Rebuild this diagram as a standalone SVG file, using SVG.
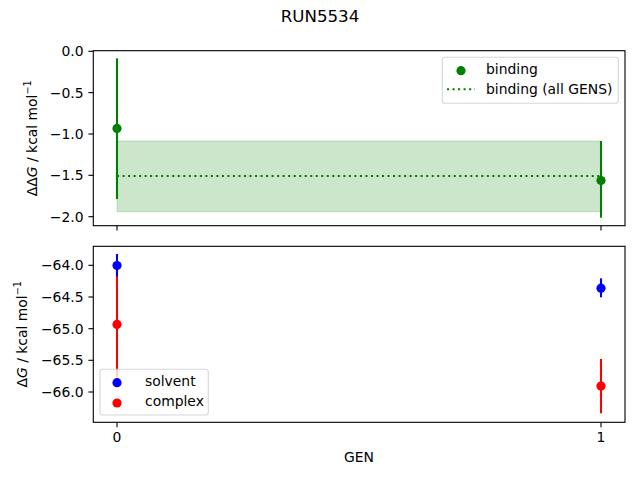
<svg xmlns="http://www.w3.org/2000/svg" width="640" height="480" viewBox="0 0 640 480">
<style>
text{font-family:"DejaVu Sans","Liberation Sans",sans-serif;fill:#000}
.tk{font-size:13.9px}
.tr{text-anchor:end}
.tm{text-anchor:middle}
.spine{fill:none;stroke:#000;stroke-width:1.11}
.tick{stroke:#000;stroke-width:1.11}
.eg{stroke:#008000;stroke-width:2.08}
.eb{stroke:#0000ff;stroke-width:2.08}
.er{stroke:#ff0000;stroke-width:2.08}
.leg{fill:#fff;fill-opacity:0.8;stroke:#ccc;stroke-opacity:0.8;stroke-width:1.11}
</style>
<rect width="640" height="480" fill="#fff"/>
<text id="title" x="320" y="21.8" class="tm" style="font-size:16.67px">RUN5534</text>

<g id="top-axes">
  <rect x="117" y="141" width="484" height="70.7" fill="#008000" fill-opacity="0.2" stroke="#008000" stroke-opacity="0.2" stroke-width="1"/>
  <line x1="117" y1="176" x2="601" y2="176" stroke="#008000" stroke-width="2.08" stroke-dasharray="2.08,3.44"/>
  <line class="eg" x1="117" y1="58.3" x2="117" y2="199"/>
  <circle cx="117" cy="128.4" r="4.6" fill="#008000"/>
  <line class="eg" x1="601" y1="141" x2="601" y2="217.7"/>
  <circle cx="601" cy="180.5" r="4.6" fill="#008000"/>
  <rect class="spine" x="93.3" y="50.7" width="531.7" height="175"/>
  <g class="tick">
    <line x1="88.4" y1="51.3" x2="93.3" y2="51.3"/>
    <line x1="88.4" y1="92.6" x2="93.3" y2="92.6"/>
    <line x1="88.4" y1="134" x2="93.3" y2="134"/>
    <line x1="88.4" y1="175.3" x2="93.3" y2="175.3"/>
    <line x1="88.4" y1="216.7" x2="93.3" y2="216.7"/>
    <line x1="117" y1="225.7" x2="117" y2="230.6"/>
    <line x1="601" y1="225.7" x2="601" y2="230.6"/>
  </g>
  <g class="tk tr">
    <text x="83.5" y="56.3">0.0</text>
    <text x="83.5" y="97.6">−0.5</text>
    <text x="83.5" y="139">−1.0</text>
    <text x="83.5" y="180.3">−1.5</text>
    <text x="83.5" y="221.7">−2.0</text>
  </g>
  <text class="tk tm" transform="translate(36.5,138.2) rotate(-90)">ΔΔ<tspan font-style="italic">G</tspan> / kcal mol<tspan dy="-5.5" style="font-size:9.7px">−1</tspan></text>
  <g id="top-legend">
    <rect class="leg" x="442.3" y="57.3" width="176" height="46" rx="2.8"/>
    <circle cx="461" cy="70.7" r="4.6" fill="#008000"/>
    <text class="tk" x="486" y="73.5">binding</text>
    <line x1="447" y1="89.3" x2="475" y2="89.3" stroke="#008000" stroke-width="2.08" stroke-dasharray="2.08,3.44"/>
    <text class="tk" x="486" y="93.5">binding (all GENS)</text>
  </g>
</g>

<g id="bottom-axes">
  <line class="er" x1="117" y1="271" x2="117" y2="377"/>
  <circle cx="117" cy="324.4" r="4.6" fill="#ff0000"/>
  <line class="eb" x1="117" y1="254" x2="117" y2="276.6"/>
  <circle cx="117" cy="265.5" r="4.6" fill="#0000ff"/>
  <line class="eb" x1="601" y1="278.3" x2="601" y2="297.3"/>
  <circle cx="601" cy="288.2" r="4.6" fill="#0000ff"/>
  <line class="er" x1="601" y1="359" x2="601" y2="413.3"/>
  <circle cx="601" cy="386" r="4.6" fill="#ff0000"/>
  <rect class="spine" x="93.3" y="246.3" width="531.7" height="176"/>
  <g class="tick">
    <line x1="88.4" y1="265.3" x2="93.3" y2="265.3"/>
    <line x1="88.4" y1="297" x2="93.3" y2="297"/>
    <line x1="88.4" y1="328.7" x2="93.3" y2="328.7"/>
    <line x1="88.4" y1="360.3" x2="93.3" y2="360.3"/>
    <line x1="88.4" y1="392" x2="93.3" y2="392"/>
    <line x1="117" y1="422.3" x2="117" y2="427.2"/>
    <line x1="601" y1="422.3" x2="601" y2="427.2"/>
  </g>
  <g class="tk tr">
    <text x="83.5" y="270.3">−64.0</text>
    <text x="83.5" y="302">−64.5</text>
    <text x="83.5" y="333.7">−65.0</text>
    <text x="83.5" y="365.3">−65.5</text>
    <text x="83.5" y="397">−66.0</text>
  </g>
  <g class="tk tm">
    <text x="117" y="442">0</text>
    <text x="601" y="442">1</text>
  </g>
  <text class="tk tm" x="359" y="462">GEN</text>
  <text class="tk tm" transform="translate(26.5,334.3) rotate(-90)">Δ<tspan font-style="italic">G</tspan> / kcal mol<tspan dy="-5.5" style="font-size:9.7px">−1</tspan></text>
  <g id="bottom-legend">
    <rect class="leg" x="100" y="369.3" width="108.3" height="45.7" rx="2.8"/>
    <circle cx="117" cy="382.7" r="4.6" fill="#0000ff"/>
    <text class="tk" x="145" y="385.5">solvent</text>
    <circle cx="117" cy="403" r="4.6" fill="#ff0000"/>
    <text class="tk" x="145" y="405.8">complex</text>
  </g>
</g>
</svg>
